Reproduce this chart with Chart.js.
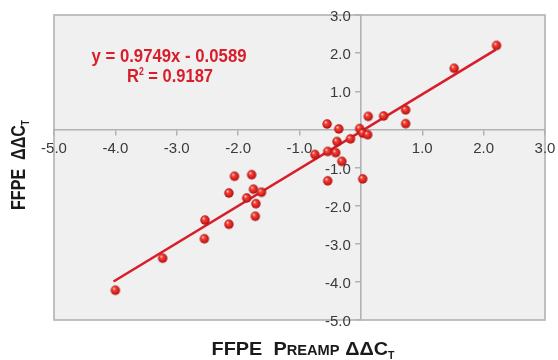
<!DOCTYPE html>
<html>
<head>
<meta charset="utf-8">
<script src="https://cdn.jsdelivr.net/npm/chart.js@4.4.1/dist/chart.umd.min.js"></script>
<style>
  html, body { margin: 0; padding: 0; background: #fff; }
  #wrap { width: 558px; height: 360px; }
</style>
</head>
<body>
<div id="wrap"><canvas id="chart" width="558" height="360"></canvas></div>
<script>
// datos
const preampDdct = [2.21, 1.52, 0.73, 0.73, 0.37, 0.12, -0.55, -0.36, -0.02, 0.03, 0.11,
  -0.17, -0.39, -0.54, -0.41, -0.75, -0.31, -0.54, 0.03, -2.06, -1.78, -1.75, -1.62,
  -2.15, -1.86, -1.71, -1.72, -2.54, -2.15, -2.55, -3.23, -4.0];
const ffpeDdct = [2.2, 1.6, 0.51, 0.15, 0.35, 0.34, 0.14, 0.01, 0.02, -0.1, -0.14,
  -0.25, -0.32, -0.58, -0.61, -0.66, -0.84, -1.35, -1.3, -1.23, -1.19, -1.57, -1.65,
  -1.67, -1.8, -1.95, -2.28, -2.38, -2.49, -2.87, -3.38, -4.22];

// extremos de la recta de ajuste
const fitX = [-4.03, 2.2];
const fitY = [-3.99, 2.09];

// etiquetas de los ejes (0.0 no se muestra)
const xTickLabels = ["-5.0", "-4.0", "-3.0", "-2.0", "-1.0", "", "1.0", "2.0", "3.0"];
const yTickLabels = ["-5.0", "-4.0", "-3.0", "-2.0", "-1.0", "", "1.0", "2.0", "3.0"];

const equationText = "y = 0.9749x - 0.0589";
const r2Text = "0.9187";

const RED = "#d81e2a";
const AXIS_GRAY = "#b2b2b2";
const TITLE_FONT = "'Liberation Sans', Arial, sans-serif";
const TICK_FONT = "'Liberation Sans', Arial, sans-serif";

// esfera roja para los puntos
function crearEsfera(r) {
  const c = document.createElement("canvas");
  const size = Math.ceil(r * 2) + 2;
  c.width = size;
  c.height = size;
  const g = c.getContext("2d");
  const cx = size / 2, cy = size / 2;
  const grad = g.createRadialGradient(cx - r * 0.35, cy - r * 0.4, 0.3, cx, cy, r);
  grad.addColorStop(0, "#ffe4e0");
  grad.addColorStop(0.25, "#f44a3e");
  grad.addColorStop(0.7, "#dc1f1c");
  grad.addColorStop(1, "#9e0f10");
  g.fillStyle = grad;
  g.beginPath();
  g.arc(cx, cy, r, 0, Math.PI * 2);
  g.fill();
  return c;
}
const esfera = crearEsfera(4.7);

const puntos = preampDdct.map((x, i) => ({ x, y: ffpeDdct[i] }));
const recta = fitX.map((x, i) => ({ x, y: fitY[i] }));

// fondo y borde del area de trazado
const fondoPlugin = {
  id: "fondo",
  beforeDraw(chart) {
    const { ctx, chartArea: a } = chart;
    ctx.save();
    ctx.fillStyle = "#f0f0f0";
    ctx.fillRect(a.left, a.top, a.right - a.left, a.bottom - a.top);
    ctx.restore();
  },
  afterDraw(chart) {
    const { ctx, chartArea: a } = chart;
    ctx.save();
    ctx.strokeStyle = AXIS_GRAY;
    ctx.lineWidth = 1.6;
    ctx.strokeRect(a.left, a.top, a.right - a.left, a.bottom - a.top);
    ctx.restore();
  }
};

// dibuja partes de texto (tamanos distintos) comprimidas al ancho pedido
function dibujarPartes(ctx, partes, x, y, ancho) {
  let total = 0;
  partes.forEach(p => {
    ctx.font = `bold ${p.s}px ${TITLE_FONT}`;
    p.w = ctx.measureText(p.t).width;
    total += p.w;
  });
  const f = ancho / total;
  ctx.save();
  ctx.translate(x - ancho / 2, y);
  ctx.scale(f, 1);
  let cx = 0;
  partes.forEach(p => {
    ctx.font = `bold ${p.s}px ${TITLE_FONT}`;
    ctx.fillText(p.t, cx, p.dy || 0);
    cx += p.w;
  });
  ctx.restore();
}

// etiquetas de ticks junto a los ejes que cruzan en el origen
const ticksPlugin = {
  id: "ticksOrigen",
  afterDraw(chart) {
    const { ctx, scales } = chart;
    const x0 = scales.x.getPixelForValue(0);
    const y0 = scales.y.getPixelForValue(0);
    ctx.save();
    ctx.fillStyle = "#3a3a3a";
    ctx.font = `15px ${TICK_FONT}`;
    ctx.textBaseline = "alphabetic";
    ctx.textAlign = "center";
    scales.x.ticks.forEach((t, i) => {
      ctx.fillText(xTickLabels[i], scales.x.getPixelForValue(t.value), y0 + 24);
    });
    ctx.textAlign = "right";
    scales.y.ticks.forEach((t, i) => {
      ctx.fillText(yTickLabels[i], x0 - 10, scales.y.getPixelForValue(t.value) + 6);
    });
    ctx.restore();
  }
};

const textosPlugin = {
  id: "textos",
  afterDraw(chart) {
    const ctx = chart.ctx;
    ctx.save();
    ctx.textBaseline = "alphabetic";
    ctx.textAlign = "left";

    // ecuacion
    ctx.fillStyle = RED;
    dibujarPartes(ctx, [{ t: equationText, s: 19 }], 169, 62, 155);
    dibujarPartes(ctx, [{ t: "R", s: 19 }, { t: "2", s: 10, dy: -7 }, { t: " = " + r2Text, s: 19 }], 170, 82, 86);

    // titulos de ejes
    ctx.fillStyle = "#1a1a1a";
    dibujarPartes(ctx, [
      { t: "FFPE  ", s: 19 }, { t: "P", s: 19 }, { t: "REAMP", s: 14 },
      { t: " \u0394\u0394C", s: 19 }, { t: "T", s: 10, dy: 4 }
    ], 303, 355, 183);

    ctx.translate(25, 165);
    ctx.rotate(-Math.PI / 2);
    dibujarPartes(ctx, [
      { t: "FFPE  \u0394\u0394C", s: 21 }, { t: "T", s: 11, dy: 4 }
    ], 0, 0, 90);
    ctx.restore();
  }
};

const ejeComun = {
  type: "linear",
  min: -5,
  max: 3,
  grid: {
    drawOnChartArea: false,
    drawTicks: true,
    tickLength: 5,
    color: AXIS_GRAY,
    lineWidth: 1.5
  },
  border: { display: true, color: AXIS_GRAY, width: 1.6 },
  title: { display: false },
  ticks: { stepSize: 1, display: false }
};

new Chart(document.getElementById("chart"), {
  type: "scatter",
  data: {
    datasets: [
      {
        label: "ajuste",
        type: "line",
        data: recta,
        borderColor: RED,
        borderWidth: 2.6,
        pointRadius: 0,
        fill: false,
        order: 2
      },
      {
        label: "FFPE",
        data: puntos,
        pointStyle: esfera,
        pointRadius: 5,
        order: 1
      }
    ]
  },
  options: {
    responsive: false,
    animation: false,
    layout: { padding: { left: 54, right: 13, top: 15, bottom: 40 } },
    plugins: {
      legend: { display: false },
      tooltip: { enabled: false }
    },
    scales: {
      x: { ...ejeComun, position: { y: 0 } },
      y: { ...ejeComun, position: { x: 0 } }
    }
  },
  plugins: [fondoPlugin, ticksPlugin, textosPlugin]
});
</script>
</body>
</html>
